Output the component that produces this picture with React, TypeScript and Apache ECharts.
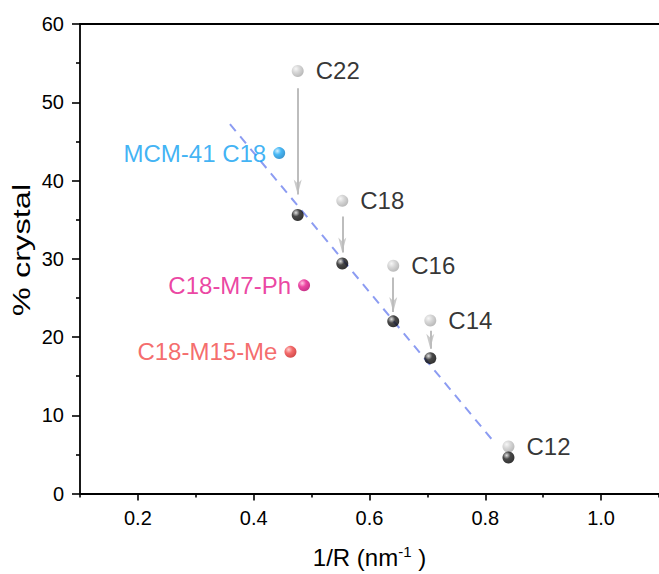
import React, { useEffect, useRef } from "react";
import * as echarts from "echarts";

// Surfactant chain series (grey = before, black = after)
const chainNames = ["C22", "C18", "C16", "C14", "C12"];
const chainX = [0.476, 0.553, 0.641, 0.705, 0.84];
const beforeY = [54.0, 37.4, 29.1, 22.1, 6.0];
const afterY = [35.6, 29.4, 22.0, 17.3, 4.6];
// arrows (start / end values) for the first four chains
const arrowStartY = [51.8, 35.4, 27.6, 20.8];
const arrowEndY = [38.2, 30.8, 23.2, 18.5];

// Other samples
const otherNames = ["MCM-41 C18", "C18-M7-Ph", "C18-M15-Me"];
const otherX = [0.444, 0.487, 0.4635];
const otherY = [43.5, 26.6, 18.1];
const otherText = ["#0f9ff2", "#e6148b", "#f24646"];
const otherHi = ["#c8ecff", "#ffb8dc", "#ffc4c4"];
const otherMid = ["#1aa6f2", "#e8188c", "#f04646"];
const otherDark = ["#0a7cc4", "#b8006c", "#c81e1e"];

// Linear fit (dashed)
const fitX = [0.359, 0.816];
const fitY = [47.2, 6.5];

// Axis ticks
const xMajorTicks = [0.2, 0.4, 0.6, 0.8, 1.0];
const xMinorTicks = [0.1, 0.3, 0.5, 0.7, 0.9, 1.1];

const FONT = "'Liberation Sans', Arial, sans-serif";
const ARROW_PATH = "path://M0,0 L5,4 L10,0 L5,15 Z";

function sphere(hi: string, mid: string, dark: string) {
  return new echarts.graphic.RadialGradient(0.35, 0.32, 0.7, [
    { offset: 0, color: hi },
    { offset: 0.45, color: mid },
    { offset: 1, color: dark },
  ]);
}

export default function App() {
  const ref = useRef<HTMLDivElement>(null);
  useEffect(() => {
    if (!ref.current) return;
    const chart = echarts.init(ref.current, undefined, { renderer: "svg" });

    const arrowData = arrowStartY.map((s, i) => ({
      coords: [
        [chainX[i], s],
        [chainX[i], arrowEndY[i]],
      ],
    }));

    const option: any = {
      animation: false,
      backgroundColor: "#ffffff",
      grid: { left: 80, right: -11, top: 24, bottom: 76, containLabel: false },
      xAxis: [
        {
          type: "value",
          position: "bottom",
          min: 0.1,
          max: 1.1,
          axisLine: { show: true, lineStyle: { color: "#000", width: 1.8 } },
          axisTick: {
            show: true,
            inside: false,
            length: 7,
            customValues: xMajorTicks,
            lineStyle: { color: "#000", width: 1.6 },
          },
          axisLabel: {
            customValues: xMajorTicks,
            formatter: (v: number) => v.toFixed(1),
            fontFamily: FONT,
            fontSize: 20,
            color: "#000",
            margin: 14,
          },
          splitLine: { show: false },
          name: "1/R (nm{sup|-1} )",
          nameLocation: "middle",
          nameGap: 50,
          nameTextStyle: {
            fontFamily: FONT,
            fontSize: 24,
            color: "#000",
            rich: {
              sup: {
                fontFamily: FONT,
                fontSize: 15,
                verticalAlign: "top",
                padding: [0, 0, 12, 0],
                color: "#000",
              },
            },
          },
        },
        {
          type: "value",
          position: "bottom",
          min: 0.1,
          max: 1.1,
          axisLine: { show: false },
          axisTick: {
            show: true,
            length: 4,
            customValues: xMinorTicks,
            lineStyle: { color: "#000", width: 1.6 },
          },
          axisLabel: { show: false },
          splitLine: { show: false },
        },
        {
          type: "value",
          position: "top",
          min: 0.1,
          max: 1.1,
          axisLine: { show: true, lineStyle: { color: "#000", width: 1.8 } },
          axisTick: { show: false },
          axisLabel: { show: false },
          splitLine: { show: false },
        },
      ],
      yAxis: {
        type: "value",
        min: 0,
        max: 60,
        interval: 10,
        axisLine: { show: true, lineStyle: { color: "#000", width: 1.8 } },
        axisTick: { show: true, length: 8, lineStyle: { color: "#000", width: 1.6 } },
        minorTick: { show: true, splitNumber: 2, length: 4, lineStyle: { color: "#000", width: 1.6 } },
        axisLabel: { fontFamily: FONT, fontSize: 20, color: "#000", margin: 16 },
        splitLine: { show: false },
      },
      graphic: [
        {
          type: "text",
          x: 22,
          y: 250,
          rotation: Math.PI / 2,
          scaleX: 1.36,
          scaleY: 1,
          style: {
            text: "% crystal",
            fontFamily: FONT,
            fontSize: 24,
            fill: "#000",
            align: "center",
            verticalAlign: "middle",
          },
        },
      ],
      series: [
        {
          type: "line",
          xAxisIndex: 0,
          data: fitX.map((x, i) => [x, fitY[i]]),
          symbol: "none",
          lineStyle: { color: "#8c9cf2", width: 2, type: [9, 7] },
          z: 1,
        },
        {
          type: "lines",
          coordinateSystem: "cartesian2d",
          xAxisIndex: 0,
          data: arrowData,
          symbol: ["none", "none"],
          lineStyle: { color: "#bdbdbd", width: 2, opacity: 1 },
          z: 2,
        },
        {
          type: "scatter",
          xAxisIndex: 0,
          data: arrowEndY.map((y, i) => [chainX[i], y]),
          symbol: ARROW_PATH,
          symbolSize: [8, 15],
          symbolOffset: [0, -7.5],
          itemStyle: { color: "#bdbdbd" },
          silent: true,
          z: 2,
        },
        {
          type: "scatter",
          xAxisIndex: 0,
          data: chainX.map((x, i) => ({ value: [x, beforeY[i]], name: chainNames[i] })),
          symbol: "circle",
          symbolSize: 12,
          itemStyle: { color: sphere("#f4f4f4", "#cdcdcd", "#a8a8a8") },
          label: {
            show: true,
            position: "right",
            distance: 12,
            formatter: (p: any) => p.name,
            fontFamily: FONT,
            fontSize: 24,
            color: "#000",
          },
          z: 3,
        },
        {
          type: "scatter",
          xAxisIndex: 0,
          data: chainX.map((x, i) => [x, afterY[i]]),
          symbol: "circle",
          symbolSize: 12,
          itemStyle: { color: sphere("#d8d8d8", "#1a1a1a", "#000000") },
          z: 4,
        },
        ...otherNames.map((n, i) => ({
          type: "scatter",
          xAxisIndex: 0,
          data: [{ value: [otherX[i], otherY[i]], name: n }],
          symbol: "circle",
          symbolSize: 12,
          itemStyle: { color: sphere(otherHi[i], otherMid[i], otherDark[i]) },
          label: {
            show: true,
            position: "left",
            distance: 7,
            formatter: (p: any) => p.name,
            fontFamily: FONT,
            fontSize: 24,
            color: otherText[i],
          },
          z: 4,
        })),
      ],
    };
    chart.setOption(option);
    return () => chart.dispose();
  }, []);
  return <div ref={ref} style={{ width: 659, height: 574, position: "absolute", left: 0, top: 0 }} />;
}
